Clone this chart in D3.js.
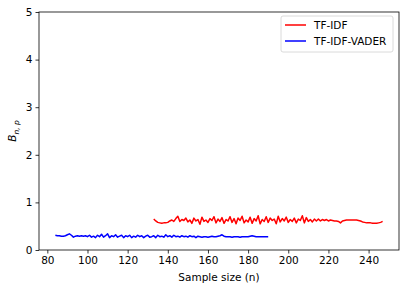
<!DOCTYPE html>
<html>
<head>
<meta charset="utf-8">
<script src="https://cdn.jsdelivr.net/npm/d3@7"></script>
<style>
  body { margin: 0; background: #fff; }
  text { font-family: "DejaVu Sans", sans-serif; }
</style>
</head>
<body>
<div id="chart"></div>
<script>
// sample sizes and B_{n,p} values
const vaderStart = 84;
const vaderValues = [
  0.31, 0.30, 0.30, 0.29, 0.29, 0.30, 0.32, 0.34, 0.31, 0.27,
  0.29, 0.30, 0.29, 0.30, 0.29, 0.30,
  0.28, 0.31, 0.27, 0.29, 0.26, 0.31, 0.28, 0.33, 0.27, 0.30,
  0.34, 0.26, 0.30, 0.28, 0.32, 0.27, 0.29, 0.31, 0.26, 0.30,
  0.28, 0.31, 0.26, 0.29, 0.27, 0.31, 0.28, 0.30, 0.26, 0.29,
  0.31, 0.27, 0.28, 0.30, 0.26, 0.31, 0.28, 0.29, 0.27, 0.32,
  0.28, 0.30, 0.27, 0.31, 0.28, 0.29, 0.27, 0.30, 0.28, 0.29,
  0.27, 0.30, 0.28, 0.29, 0.26, 0.29, 0.28, 0.27, 0.28, 0.28, 0.27,
  0.28, 0.29, 0.28, 0.28, 0.29, 0.30, 0.32, 0.29, 0.28, 0.28,
  0.28, 0.27, 0.28, 0.28, 0.28, 0.27, 0.28, 0.28, 0.28, 0.28,
  0.29, 0.30, 0.29, 0.28, 0.28, 0.28, 0.28, 0.28, 0.28, 0.28
];

const tfidfStart = 133;
const tfidfValues = [
  0.65, 0.61, 0.58, 0.57, 0.56, 0.57, 0.57, 0.58, 0.61, 0.63, 0.60,
  0.66, 0.71, 0.60, 0.64, 0.62, 0.67, 0.59, 0.63, 0.56, 0.67,
  0.61, 0.64, 0.54, 0.69, 0.60, 0.63, 0.58, 0.66, 0.62, 0.70,
  0.57, 0.65, 0.60, 0.68, 0.56, 0.64, 0.61, 0.70, 0.58, 0.66,
  0.55, 0.67, 0.62, 0.71, 0.57, 0.63, 0.59, 0.69, 0.56, 0.66,
  0.61, 0.72, 0.55, 0.64, 0.60, 0.70, 0.58, 0.67, 0.62, 0.65,
  0.55, 0.71, 0.59, 0.66, 0.61, 0.69, 0.58, 0.64, 0.60, 0.67,
  0.57, 0.65, 0.62, 0.72, 0.57, 0.68, 0.60, 0.64, 0.59, 0.65, 0.61,
  0.65, 0.61, 0.64, 0.62, 0.64, 0.61, 0.63, 0.62, 0.61, 0.61,
  0.60, 0.57, 0.61, 0.62, 0.63, 0.63, 0.63, 0.63, 0.63, 0.63,
  0.62, 0.61, 0.59, 0.58, 0.57, 0.57, 0.57, 0.56, 0.56, 0.56,
  0.57, 0.58, 0.60
];

const xTicks = [80, 100, 120, 140, 160, 180, 200, 220, 240];
const yTicks = [0, 1, 2, 3, 4, 5];

const series = [
  { name: "TF-IDF", color: "#ff0000", start: tfidfStart, values: tfidfValues },
  { name: "TF-IDF-VADER", color: "#0000ff", start: vaderStart, values: vaderValues }
];

const W = 407, H = 290;
const margin = { top: 12, right: 8, bottom: 40, left: 39 };
const fontSize = "10.5px";

const svg = d3.select("#chart").append("svg")
  .attr("width", W).attr("height", H);

const x = d3.scaleLinear().domain([75.85, 255.15]).range([margin.left, W - margin.right]);
const y = d3.scaleLinear().domain([0, 5]).range([H - margin.bottom, margin.top]);

// lines
const line = d3.line()
  .x((d) => x(d[0]))
  .y((d) => y(d[1]));

series.slice().reverse().forEach((s) => {
  const pts = s.values.map((v, i) => [s.start + i, v]);
  svg.append("path")
    .datum(pts)
    .attr("fill", "none")
    .attr("stroke", s.color)
    .attr("stroke-width", 1.5)
    .attr("stroke-linejoin", "round")
    .attr("d", line);
});

// axes
const xAxis = svg.append("g")
  .attr("transform", `translate(0,${H - margin.bottom})`)
  .call(d3.axisBottom(x).tickValues(xTicks).tickFormat(d3.format("d")).tickSize(3.5).tickPadding(3));
const yAxis = svg.append("g")
  .attr("transform", `translate(${margin.left},0)`)
  .call(d3.axisLeft(y).tickValues(yTicks).tickFormat(d3.format("d")).tickSize(3.5).tickPadding(3));

[xAxis, yAxis].forEach((g) => {
  g.select(".domain").remove();
  g.selectAll(".tick line").attr("stroke", "#000").attr("stroke-width", 0.8);
  g.selectAll(".tick text").attr("fill", "#000")
    .style("font-family", "DejaVu Sans, sans-serif").style("font-size", fontSize);
});

// frame
svg.append("rect")
  .attr("x", margin.left).attr("y", margin.top)
  .attr("width", W - margin.left - margin.right)
  .attr("height", H - margin.top - margin.bottom)
  .attr("fill", "none").attr("stroke", "#000").attr("stroke-width", 0.8);

// labels
svg.append("text")
  .attr("x", (margin.left + W - margin.right) / 2)
  .attr("y", 281)
  .attr("text-anchor", "middle")
  .style("font-size", fontSize)
  .text("Sample size (n)");

const ylab = svg.append("text")
  .attr("transform", `translate(16,${(margin.top + H - margin.bottom) / 2}) rotate(-90)`)
  .attr("text-anchor", "middle")
  .style("font-size", fontSize)
  .style("font-style", "italic");
ylab.append("tspan").text("B");
ylab.append("tspan").attr("dy", 3).style("font-size", "7.5px").text("n, p");

// legend
const lg = svg.append("g").attr("transform", "translate(281,16)");
lg.append("rect")
  .attr("width", 112).attr("height", 36).attr("rx", 2)
  .attr("fill", "#fff").attr("fill-opacity", 0.8)
  .attr("stroke", "#d0d0d0").attr("stroke-width", 0.8);
series.forEach((s, i) => {
  const yy = 9 + i * 16;
  lg.append("line")
    .attr("x1", 4).attr("x2", 25).attr("y1", yy).attr("y2", yy)
    .attr("stroke", s.color).attr("stroke-width", 1.5);
  lg.append("text")
    .attr("x", 33).attr("y", yy).attr("dy", "0.35em")
    .style("font-size", fontSize)
    .text(s.name);
});
</script>
</body>
</html>
